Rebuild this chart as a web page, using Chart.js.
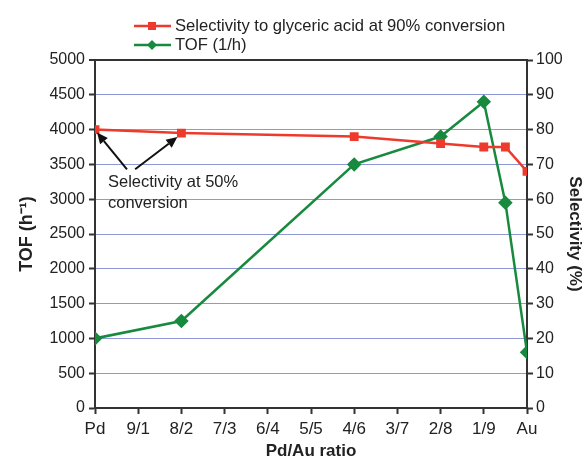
<!DOCTYPE html>
<html><head><meta charset="utf-8">
<script src="https://cdn.jsdelivr.net/npm/chart.js@4/dist/chart.umd.min.js"></script>
<style>html,body{margin:0;padding:0;background:#fff}#wrap{width:585px;height:458px}</style>
</head><body><div id="wrap"><canvas id="c" width="585" height="458"></canvas></div>
<script>
const tickLabels = ['Pd','9/1','8/2','7/3','6/4','5/5','4/6','3/7','2/8','1/9','Au'];
const tofX = [0, 2, 6, 8, 9, 9.5, 10];
const tofValues = [1000, 1250, 3500, 3900, 4400, 2950, 800];
const selX = [0, 2, 6, 8, 9, 9.5, 10];
const selValues = [80, 79, 78, 76, 75, 75, 68];
const selLabel = 'Selectivity to glyceric acid at 90% conversion';
const tofLabel = 'TOF (1/h)';
const RED = '#ee3a2c', GREEN = '#188a3f', AX = '#333333', GRID = '#8e98d8';
const FONT = '"Liberation Sans", Arial, sans-serif';

const overlay = {
  id: 'overlay',
  afterDraw(chart) {
    const ctx = chart.ctx, xs = chart.scales.x, ys = chart.scales.y, y2 = chart.scales.y2;
    ctx.save();
    // legend
    const items = [[selLabel, RED, 'rect'], [tofLabel, GREEN, 'diamond']];
    items.forEach((it, i) => {
      const y = 26 + i * 19;
      ctx.strokeStyle = it[1]; ctx.fillStyle = it[1]; ctx.lineWidth = 2.5;
      ctx.beginPath(); ctx.moveTo(134, y); ctx.lineTo(171, y); ctx.stroke();
      if (it[2] === 'rect') ctx.fillRect(148, y - 4, 8, 8);
      else { ctx.beginPath(); ctx.moveTo(152, y - 5); ctx.lineTo(157, y); ctx.lineTo(152, y + 5); ctx.lineTo(147, y); ctx.closePath(); ctx.fill(); }
      ctx.fillStyle = '#222'; ctx.font = '16.6px ' + FONT; ctx.textBaseline = 'middle'; ctx.textAlign = 'left';
      ctx.fillText(it[0], 175, y);
    });
    // annotation
    const tx = xs.getPixelForValue(0.3), ty = ys.getPixelForValue(3240);
    ctx.fillStyle = '#222'; ctx.font = '16.5px ' + FONT; ctx.textBaseline = 'middle';
    ctx.fillText('Selectivity at 50%', tx, ty);
    ctx.fillText('conversion', tx, ty + 21);
    const arrow = (x0, y0, x1, y1) => {
      ctx.strokeStyle = '#111'; ctx.fillStyle = '#111'; ctx.lineWidth = 2;
      const a = Math.atan2(y1 - y0, x1 - x0), L = 11, W = 5;
      const bx = x1 - L * Math.cos(a), by = y1 - L * Math.sin(a);
      ctx.beginPath(); ctx.moveTo(x0, y0); ctx.lineTo(bx, by); ctx.stroke();
      ctx.beginPath(); ctx.moveTo(x1, y1);
      ctx.lineTo(bx + W * Math.sin(a), by - W * Math.cos(a));
      ctx.lineTo(bx - W * Math.sin(a), by + W * Math.cos(a)); ctx.closePath(); ctx.fill();
    };
    const sy = ys.getPixelForValue(3430);
    arrow(xs.getPixelForValue(0.74), sy, xs.getPixelForValue(0) + 2, y2.getPixelForValue(selValues[0]) + 3);
    arrow(xs.getPixelForValue(0.93), sy, xs.getPixelForValue(2) - 4, y2.getPixelForValue(selValues[1]) + 4);
    ctx.restore();
  }
};

new Chart(document.getElementById('c'), {
  type: 'line',
  data: {
    datasets: [
      { label: selLabel, data: selX.map((x, i) => ({x, y: selValues[i]})), yAxisID: 'y2',
        borderColor: RED, backgroundColor: RED, borderWidth: 2.5, pointStyle: 'rect', pointRadius: 4.5, tension: 0 },
      { label: tofLabel, data: tofX.map((x, i) => ({x, y: tofValues[i]})), yAxisID: 'y',
        borderColor: GREEN, backgroundColor: GREEN, borderWidth: 2.5, pointStyle: 'rectRot', pointRadius: 5.5, tension: 0 }
    ]
  },
  options: {
    responsive: false, animation: false, devicePixelRatio: 1,
    layout: { padding: { top: 60, left: 0, right: 0, bottom: 0 } },
    plugins: { legend: { display: false }, tooltip: { enabled: false } },
    scales: {
      x: { type: 'linear', min: 0, max: 10,
        afterFit(s) { s.height = 50; },
        ticks: { stepSize: 1, autoSkip: false, maxRotation: 0, color: '#222', font: { family: FONT, size: 17 }, padding: 5,
          callback: v => tickLabels[v] },
        grid: { drawOnChartArea: false, tickLength: 6, tickColor: AX, tickWidth: 2 },
        border: { color: AX, width: 2 },
        title: { display: true, text: 'Pd/Au ratio', color: '#222', font: { family: FONT, size: 17, weight: 'bold', lineHeight: 1 }, padding: { top: 0, bottom: -2 } } },
      y: { position: 'left', min: 0, max: 5000,
        afterFit(s) { s.width = 95; },
        ticks: { stepSize: 500, color: '#222', font: { family: FONT, size: 16 }, padding: 4, callback: v => String(v) },
        grid: { color: c => (c.tick.value === 0 || c.tick.value === 5000) ? AX : GRID,
          lineWidth: c => (c.tick.value === 5000) ? 2 : 1, tickLength: 6, tickColor: AX, tickWidth: 2 },
        border: { color: AX, width: 2 },
        title: { display: true, text: 'TOF (h⁻¹)', color: '#222', font: { family: FONT, size: 18, weight: 'bold' }, padding: { top: 16, bottom: 0 } } },
      y2: { position: 'right', min: 0, max: 100,
        afterFit(s) { s.width = 58; },
        ticks: { stepSize: 10, color: '#222', font: { family: FONT, size: 16 }, padding: 3, callback: v => String(v) },
        grid: { drawOnChartArea: false, tickLength: 6, tickColor: AX, tickWidth: 2 },
        border: { color: AX, width: 2 },
        title: { display: true, text: 'Selectivity (%)', color: '#222', font: { family: FONT, size: 17, weight: 'bold' }, padding: { top: 0, bottom: 0 } } }
    }
  },
  plugins: [overlay]
});
</script></body></html>
